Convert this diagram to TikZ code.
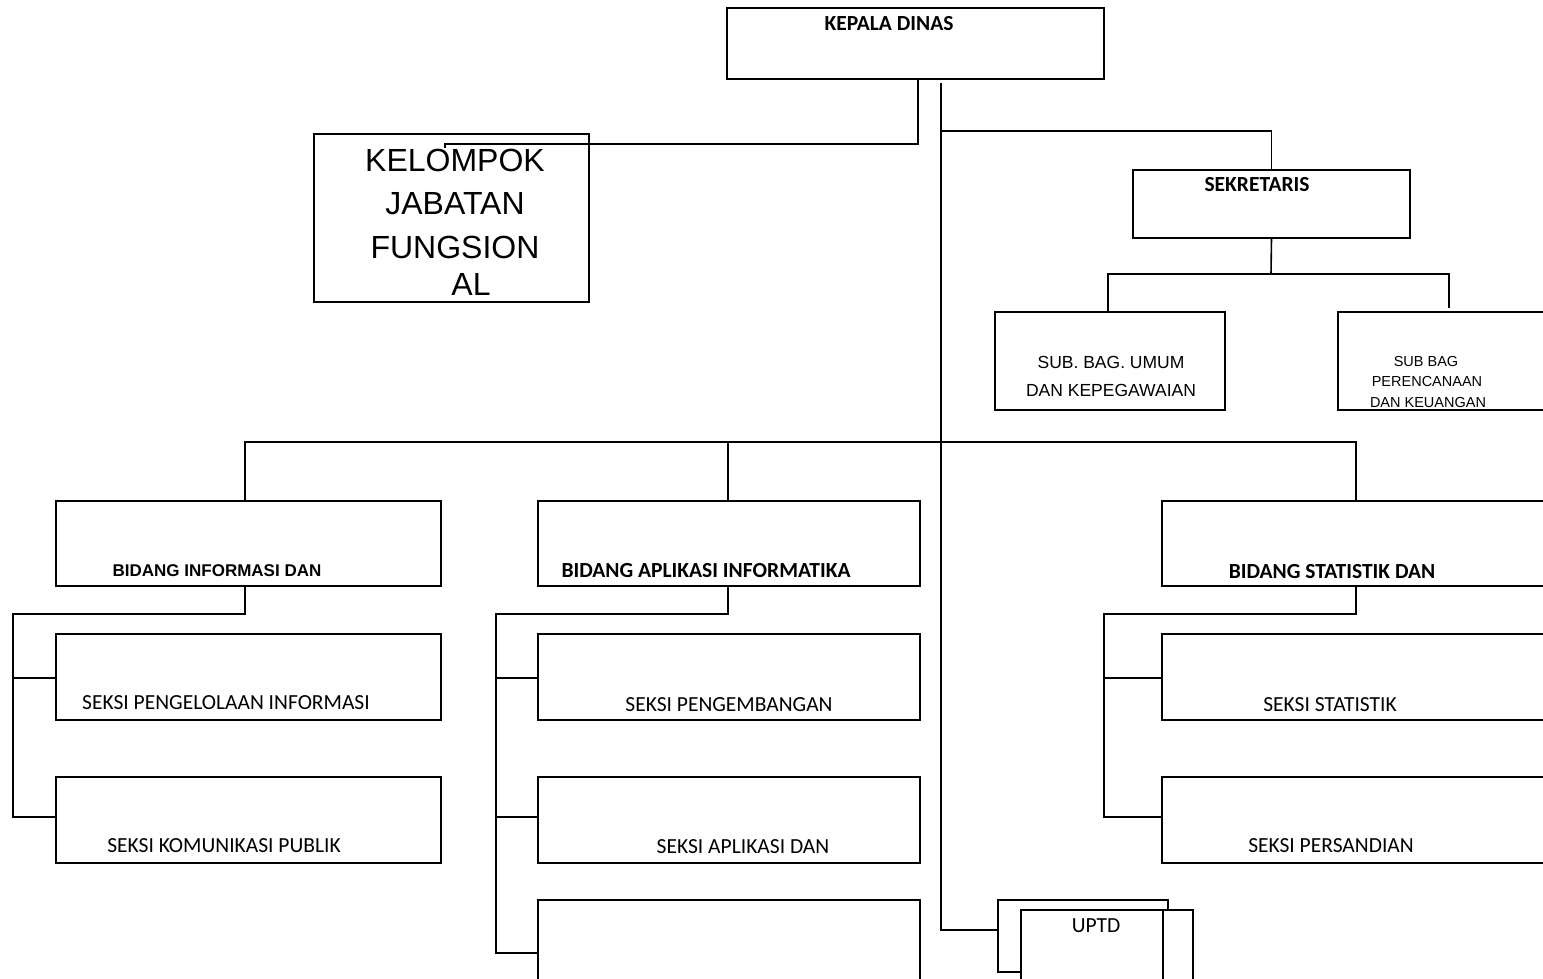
\documentclass[tikz,border=0pt]{standalone}
\usepackage{fontspec}
\newfontfamily\carlito{Carlito}
\newfontfamily\arial{Liberation Sans}
\begin{document}
\begin{tikzpicture}[x=1pt,y=-1pt,line width=1.6pt,
  box/.style={draw,line width=1.6pt,inner sep=0pt,outer sep=0pt,anchor=north west},
  ghost/.style={inner sep=0pt,outer sep=0pt,anchor=north west},
  lbl/.style={inner sep=0pt,font=\carlito\fontsize{21.5}{24}\selectfont},
  blbl/.style={inner sep=0pt,font=\carlito\bfseries\fontsize{21.5}{24}\selectfont},
  ablbl/.style={inner sep=0pt,font=\arial\bfseries\fontsize{17}{20}\selectfont},
  big/.style={inner sep=0pt,font=\arial\fontsize{32}{36}\selectfont},
  mid/.style={inner sep=0pt,font=\arial\fontsize{17.5}{20}\selectfont},
  sml/.style={inner sep=0pt,font=\arial\fontsize{14.5}{18}\selectfont}]
\useasboundingbox (0,0) rectangle (1543,978);
\clip (0,0) rectangle (1543,978);
% boxes
\node[box,minimum width=377pt,minimum height=71pt] (kd) at (727,8) {};
\node[box,minimum width=275pt,minimum height=168pt] (jf) at (314,134) {};
\node[box,minimum width=277pt,minimum height=68pt] (sek) at (1133,170) {};
\node[box,minimum width=230pt,minimum height=98pt] (sbu) at (995,312) {};
\node[box,minimum width=220pt,minimum height=98pt] (sbp) at (1338,312) {};
\node[box,minimum width=385pt,minimum height=85pt] (bi) at (56,501) {};
\node[box,minimum width=382pt,minimum height=85pt] (ba) at (538,501) {};
\node[box,minimum width=400pt,minimum height=85pt] (bs) at (1162,501) {};
\node[box,minimum width=385pt,minimum height=86pt] (s11) at (56,634) {};
\node[box,minimum width=385pt,minimum height=86pt] (s12) at (56,777) {};
\node[box,minimum width=382pt,minimum height=86pt] (s21) at (538,634) {};
\node[box,minimum width=382pt,minimum height=86pt] (s22) at (538,777) {};
\node[box,minimum width=382pt,minimum height=100pt] (s23) at (538,900) {};
\node[box,minimum width=400pt,minimum height=86pt] (s31) at (1162,634) {};
\node[box,minimum width=400pt,minimum height=86pt] (s32) at (1162,777) {};
\node[box,minimum width=172pt,minimum height=100pt] (uf) at (1021,910) {};
\node[ghost,minimum width=170pt,minimum height=72pt] (ub) at (998,900) {};
\draw (ub.south -| uf.west) -- (ub.south west) -- (ub.north west) -- (ub.north east) -- (ub.east |- uf.north);
\coordinate (ubin) at (1163,910);
\draw (ubin) -- (1163,985);
% texts
\node[blbl] (tkd) at (889,24) {KEPALA DINAS};
\node[blbl] (tsek) at (1257,185) {SEKRETARIS};
\node[big] (tjf1) at (455,160) {KELOMPOK};
\node[big] (tjf2) at (455,204) {JABATAN};
\node[big] (tjf3) at (455,247) {FUNGSION};
\node[big] (tjf4) at (471,284) {AL};
\node[mid] (tsbu1) at (1111,362) {SUB. BAG. UMUM};
\node[mid] (tsbu2) at (1111,390) {DAN KEPEGAWAIAN};
\node[sml] (tsbp1) at (1426,362) {SUB BAG};
\node[sml] (tsbp2) at (1427,382) {PERENCANAAN};
\node[sml] (tsbp3) at (1428,403) {DAN KEUANGAN};
\node[ablbl] (tbi) at (217,571) {BIDANG INFORMASI DAN};
\node[blbl] (tba) at (706,571) {BIDANG APLIKASI INFORMATIKA};
\node[blbl] (tbs) at (1332,572) {BIDANG STATISTIK DAN};
\node[lbl] (ts11) at (226,703) {SEKSI PENGELOLAAN INFORMASI};
\node[lbl] (ts12) at (224,846) {SEKSI KOMUNIKASI PUBLIK};
\node[lbl] (ts21) at (729,705) {SEKSI PENGEMBANGAN};
\node[lbl] (ts22) at (743,847) {SEKSI APLIKASI DAN};
\node[lbl] (ts31) at (1330,705) {SEKSI STATISTIK};
\node[lbl] (ts32) at (1331,846) {SEKSI PERSANDIAN};
\node[lbl] (tuptd) at (1096,926) {UPTD};
% connectors
\coordinate (jfend) at (445,148);
\draw (kd.south -| 918,0) -- (918,144) -| (jfend);
\coordinate (spine) at (941,83);
\draw (spine) -- (941,930) -- (ub.west |- 0,930);
\draw (941,131) -| (sek.north);
\coordinate (sj) at (1271,274);
\draw (sek.south) -- (sj);
\coordinate (sbpend) at (1449,308);
\draw (sbu.north -| 1108,0) -- (1108,274) -| (sbpend);
\draw (bi.north -| 245,0) -- (245,442) -| (bs.north -| 1356,0);
\draw (ba.north -| 728,0) -- (728,442);
% bidang informasi
\draw (bi.south -| 245,0) -- (245,614) -- (13,614) -- (13,817) -- (s12.west |- 0,817);
\draw (13,678) -- (s11.west |- 0,678);
% bidang aplikasi
\draw (ba.south -| 728,0) -- (728,614) -- (496,614) -- (496,953) -- (s23.west |- 0,953);
\draw (496,678) -- (s21.west |- 0,678);
\draw (496,817) -- (s22.west |- 0,817);
% bidang statistik
\draw (bs.south -| 1356,0) -- (1356,614) -- (1104,614) -- (1104,817) -- (s32.west |- 0,817);
\draw (1104,678) -- (s31.west |- 0,678);
\end{tikzpicture}
\end{document}
